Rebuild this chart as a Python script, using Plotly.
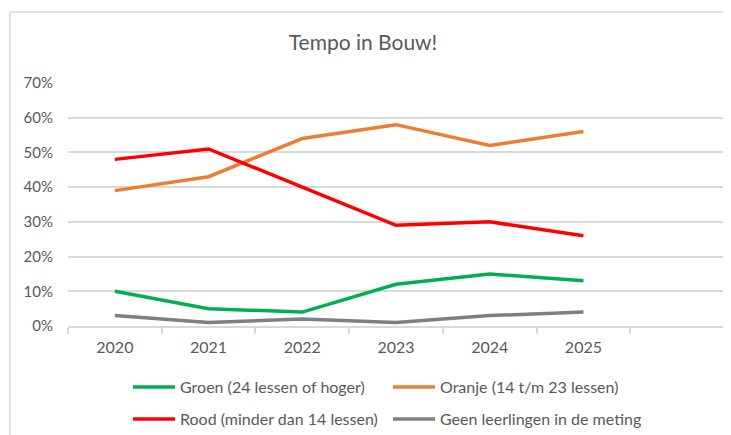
import plotly.graph_objects as go

years = ["2020", "2021", "2022", "2023", "2024", "2025"]
categories = years + [" "]
groen = [10, 5, 4, 12, 15, 13]
oranje = [39, 43, 54, 58, 52, 56]
rood = [48, 51, 40, 29, 30, 26]
geen = [3, 1, 2, 1, 3, 4]

names = ["Groen (24 lessen of hoger)", "Oranje (14 t/m 23 lessen)",
         "Rood (minder dan 14 lessen)", "Geen leerlingen in de meting"]
colors = ["#00b050", "#ed7d31", "#ff0000", "#7f7f7f"]
series = [groen, oranje, rood, geen]
legends = ["legend", "legend", "legend2", "legend2"]

font = "Lato, 'Open Sans', sans-serif"
fig = go.Figure()
for n, c, s, lg in zip(names, colors, series, legends):
    fig.add_trace(go.Scatter(x=years, y=s, mode="lines", name=n, legend=lg,
                             line=dict(color=c, width=3.5)))

leg_common = dict(orientation="h", xref="container", yref="container",
                  xanchor="left", yanchor="middle",
                  entrywidth=203, entrywidthmode="pixels",
                  font=dict(family=font, size=16, color="#595959"),
                  itemwidth=42, bgcolor="rgba(0,0,0,0)")

fig.update_layout(
    width=723, height=427,
    margin=dict(l=60, r=7, t=75, b=109),
    paper_bgcolor="white", plot_bgcolor="white",
    title=dict(text="Tempo in Bouw!", x=0.491, xref="container", xanchor="center",
               y=0.918, yref="container", yanchor="middle",
               font=dict(family=font, size=21, color="#595959")),
    font=dict(family=font, color="#595959"),
    showlegend=True,
    legend=dict(x=0.166, y=0.1124, **leg_common),
    legend2=dict(x=0.166, y=0.0375, **leg_common),
    xaxis=dict(type="category", categoryorder="array", categoryarray=categories,
               range=[-0.5, 6.5], tickson="boundaries", ticks="outside",
               ticklen=6, tickwidth=1.5, tickcolor="#d9d9d9", showline=True,
               linecolor="#d9d9d9", linewidth=1.5, showgrid=False,
               ticklabelstandoff=6,
               tickfont=dict(family=font, size=16, color="#595959")),
    yaxis=dict(range=[0, 70], dtick=10, ticksuffix="%", showgrid=True,
               gridcolor="#d9d9d9", gridwidth=1.5, zeroline=False,
               ticks="", ticklabelstandoff=14,
               tickfont=dict(family=font, size=15, color="#595959")),
)
fig.add_shape(type="line", xref="paper", yref="paper",
              x0=-0.0884, x1=-0.0884, y0=1.292, y1=-0.47,
              line=dict(color="#d9d9d9", width=1.5))
fig.add_shape(type="line", xref="paper", yref="paper",
              x0=-0.0884, x1=1.02, y0=1.292, y1=1.292,
              line=dict(color="#d9d9d9", width=1.5))
fig.write_html("out.html")
